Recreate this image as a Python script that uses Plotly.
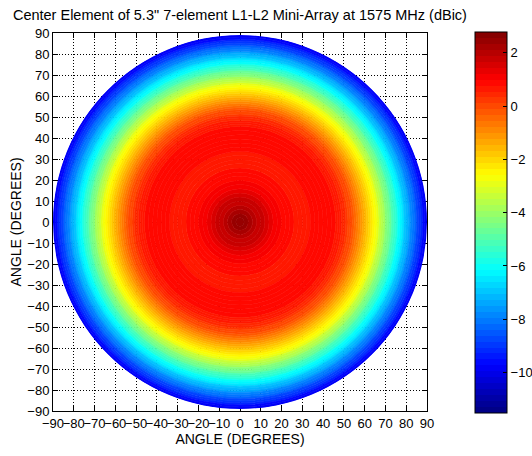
import numpy as np
import plotly.graph_objects as go

# ---- data: radial gain profile ----
# ring edges (degrees off boresight) and the gain read inside each ring
ring_edges_deg = list(range(0, 46, 2)) + list(range(46, 91, 1))
gain_dbic = [2.55, 2.45, 2.3, 2.1, 1.9, 1.7, 1.5, 1.35, 1.2, 1.1, 1.0, 0.9, 0.8, 0.75,
             0.7, 0.7, 0.75, 0.8, 0.85, 0.9, 0.9, 0.9, 0.85,
             0.78, 0.7, 0.6, 0.48, 0.36, 0.22, 0.08, -0.08, -0.26, -0.45, -0.65,
             -0.86, -1.08, -1.3, -1.53, -1.76, -1.99, -2.22, -2.47, -2.72, -2.97,
             -3.24, -3.54, -3.84, -4.14, -4.44, -4.74, -5.04, -5.34, -5.64, -5.94,
             -6.24, -6.54, -6.84, -7.14, -7.44, -7.74, -8.04, -8.34, -8.64, -8.94,
             -9.24, -9.54, -9.84]
cmin, cmax = -11.5, 2.8
axis_ticks = list(range(-90, 91, 10))
cbar_ticks = [-10, -8, -6, -4, -2, 0, 2]
title_text = 'Center Element of 5.3" 7-element L1-L2 Mini-Array at 1575 MHz (dBic)'

# MATLAB-style jet, 64 discrete steps
def jet(t):
    r = np.clip(1.5 - abs(4 * t - 3), 0, 1)
    g = np.clip(1.5 - abs(4 * t - 2), 0, 1)
    b = np.clip(1.5 - abs(4 * t - 1), 0, 1)
    return f"rgb({int(round(r*255))},{int(round(g*255))},{int(round(b*255))})"

n = 64
colorscale = []
for i in range(n):
    c = jet((i + 0.5) / n)
    colorscale.append([i / n, c])
    colorscale.append([(i + 1) / n, c])

font = "Liberation Sans, Arial, sans-serif"
edges = np.array(ring_edges_deg, dtype=float)
base = edges[:-1].tolist()
r = np.diff(edges).tolist()

fig = go.Figure()
fig.add_trace(go.Scatter(x=[], y=[], showlegend=False, hoverinfo="skip"))
fig.add_trace(go.Barpolar(
    r=r, base=base, theta=[0] * len(r), width=[360] * len(r),
    hoverinfo="skip",
    marker=dict(
        color=gain_dbic, colorscale=colorscale, cmin=cmin, cmax=cmax,
        line=dict(color=gain_dbic, colorscale=colorscale, cmin=cmin, cmax=cmax, width=0.6),
        colorbar=dict(
            x=1.128, xanchor="left", xpad=0, thickness=32,
            y=0.5, yanchor="middle", ypad=0, len=381, lenmode="pixels",
            tickvals=cbar_ticks, ticks="inside", ticklen=4, tickcolor="black",
            outlinecolor="black", outlinewidth=1,
            tickfont=dict(family=font, size=13, color="black"),
        ),
    ),
    showlegend=False,
))

axis_common = dict(
    range=[-90, 90], tickvals=axis_ticks, ticks="inside", ticklen=5,
    tickcolor="black", showline=True, linecolor="black", linewidth=1,
    mirror="ticks", showgrid=True, gridcolor="black", griddash="1px,2px",
    gridwidth=1, zeroline=False, automargin=False, tickangle=0,
    tickfont=dict(family=font, size=13, color="black"),
)

fig.update_layout(
    width=532, height=456,
    margin=dict(l=53, r=105, t=33, b=45, autoexpand=False),
    paper_bgcolor="white", plot_bgcolor="white",
    title=dict(text=title_text, x=0.451, xanchor="center", y=0.967, yanchor="middle",
               font=dict(family=font, size=14.5, color="black")),
    xaxis=dict(**axis_common, title=dict(text="ANGLE (DEGREES)", standoff=0,
                                         font=dict(family=font, size=14, color="black"))),
    yaxis=dict(**axis_common, title=dict(text="ANGLE (DEGREES)", standoff=2,
                                         font=dict(family=font, size=14, color="black"))),
    polar=dict(
        domain=dict(x=[0, 1], y=[0, 1]),
        bgcolor="rgba(0,0,0,0)",
        radialaxis=dict(range=[0, 90], visible=False),
        angularaxis=dict(visible=False),
        hole=0,
    ),
)

fig.write_html("out.html", config={"displayModeBar": False},
               post_script="document.body.style.margin='0';")
